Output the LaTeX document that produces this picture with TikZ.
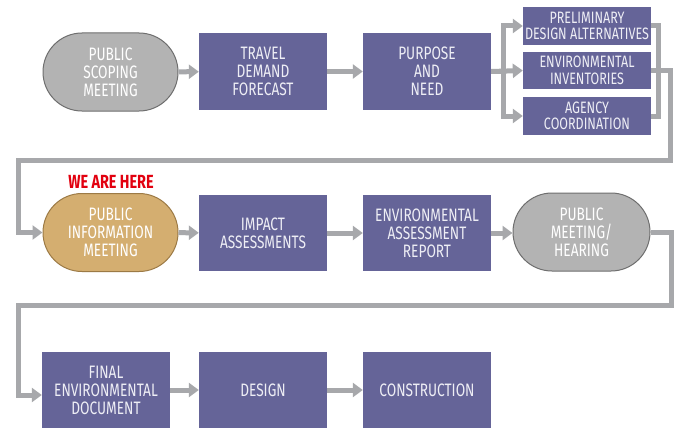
\documentclass[tikz,border=0pt]{standalone}
\usepackage{fontspec}
\setmainfont{Fira Sans}[FakeStretch=0.76]
\usetikzlibrary{arrows.meta,shapes.misc}
\definecolor{boxc}{HTML}{656498}
\definecolor{txt}{HTML}{EEEEF5}
\definecolor{grayf}{HTML}{B3B3B3}
\definecolor{grayd}{HTML}{6E6E6E}
\definecolor{tanf}{HTML}{D4AE70}
\definecolor{tand}{HTML}{9C7A45}
\definecolor{linec}{HTML}{A7A8AB}
\definecolor{hered}{HTML}{E2000F}
\tikzset{
  stepbox/.style={fill=boxc, text=txt, minimum width=128pt, minimum height=76pt, inner sep=0pt, align=center, font=\fontsize{18}{18}\selectfont},
  smallbox/.style={stepbox, minimum height=38pt, font=\fontsize{16.5}{16.5}\selectfont},
  stad/.style={rounded rectangle, rounded rectangle arc length=180, line width=1pt, minimum width=135pt, minimum height=78pt, inner sep=0pt, align=center, text=white, font=\fontsize{18}{18}\selectfont},
  graystad/.style={stad, fill=grayf, draw=grayd},
  tanstad/.style={stad, fill=tanf, draw=tand, text=white},
  conn/.style={draw=linec, line width=5pt},
  arr/.style={conn, -{Triangle[length=10pt,width=14pt]}}
}
\begin{document}
\begin{tikzpicture}[x=1pt,y=-1pt]
\useasboundingbox (0,0) rectangle (676,428);
\fill[white] (0,0) rectangle (676,428);
% row 1
\node[graystad] (scope) at (110.5,72) {PUBLIC\\SCOPING\\MEETING};
\node[stepbox] (travel) at (263,71.5) {TRAVEL\\DEMAND\\FORECAST};
\node[stepbox] (purpose) at (427,71.5) {PURPOSE\\AND\\NEED};
\node[smallbox] (prelim) at (587,26) {PRELIMINARY\\DESIGN ALTERNATIVES};
\node[smallbox, minimum height=37pt] (env) at (587,70.5) {ENVIRONMENTAL\\INVENTORIES};
\node[smallbox] (agency) at (587,116) {AGENCY\\COORDINATION};
% row 2
\node[tanstad] (info) at (110.5,232.5) {PUBLIC\\INFORMATION\\MEETING};
\node[text=hered, font=\fontsize{19}{19}\selectfont\bfseries] (here) at (111,182) {WE ARE HERE};
\node[stepbox] (impact) at (263,233) {IMPACT\\ASSESSMENTS};
\node[stepbox] (ear) at (427,233) {ENVIRONMENTAL\\ASSESSMENT\\REPORT};
\node[graystad, minimum width=137pt] (hearing) at (581.5,232) {PUBLIC\\MEETING/\\HEARING};
% row 3
\node[stepbox] (final) at (106,390) {FINAL\\ENVIRONMENTAL\\DOCUMENT};
\node[stepbox] (design) at (263,390) {DESIGN};
\node[stepbox] (constr) at (427,390) {CONSTRUCTION};
% corner points
\coordinate (r1) at (670,160);
\coordinate (l1) at (18,160);
\coordinate (r2) at (671,305);
\coordinate (l2) at (18,305);
% connectors
\draw[arr] (scope) -- (travel);
\draw[arr] (travel) -- (purpose);
\draw[arr] (purpose.east) -- ++(12,0) |- (prelim.west);
\draw[arr] (purpose.east) -- ++(12,0) |- (agency.west);
\draw[arr] (purpose.east) -- (env.west);
\draw[conn] (prelim.east) -- ++(7,0) |- (agency.east);
\draw[arr] (env.east) -| (r1) -- (l1) |- (info.west);
\draw[arr] (info) -- (impact);
\draw[arr] (impact) -- (ear);
\draw[arr] (ear.east) -- (ear.east -| hearing.west);
\draw[arr] (hearing.east) -| (r2) -- (l2) |- ([yshift=-5pt]final.west);
\draw[arr] (final) -- (design);
\draw[arr] (design) -- (constr);
\end{tikzpicture}
\end{document}
